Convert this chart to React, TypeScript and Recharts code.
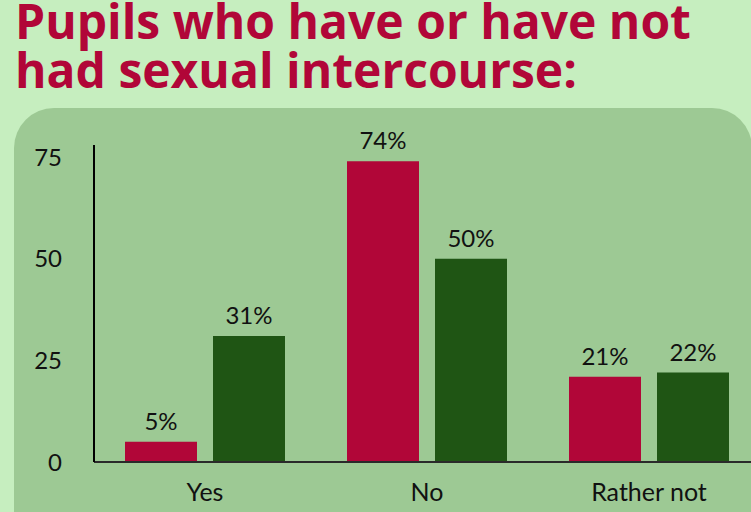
import React from "react";
import { BarChart, Bar, XAxis, YAxis, LabelList } from "recharts";

const categories = ["Yes", "No", "Rather not"];
const seriesA = [5, 74, 21];
const seriesB = [31, 50, 22];
const yTicks = [0, 25, 50, 75];
const titleLines = ["Pupils who have or have not", "had sexual intercourse:"];

const data = categories.map((c, i) => ({ name: c, a: seriesA[i], b: seriesB[i] }));

const RED = "#b10638";
const DARK = "#1f5514";

const titleStyle: React.CSSProperties = {
  position: "absolute",
  left: 15,
  fontFamily: "'Open Sans', sans-serif",
  fontWeight: 700,
  fontSize: 48,
  lineHeight: "41px",
  height: 41,
  color: RED,
  whiteSpace: "nowrap",
};

export default function App() {
  return (
    <div
      style={{
        position: "fixed",
        left: 0,
        top: 0,
        width: 751,
        height: 512,
        overflow: "hidden",
        background: "#c6eebf",
      }}
    >
      <div style={{ ...titleStyle, top: 0 }}>{titleLines[0]}</div>
      <div style={{ ...titleStyle, top: 49 }}>{titleLines[1]}</div>
      <div
        style={{
          position: "absolute",
          left: 14,
          top: 108,
          width: 738,
          height: 460,
          borderRadius: 40,
          background: "#9dc994",
        }}
      />
      <div style={{ position: "absolute", left: 0, top: 0 }}>
        <BarChart
          width={766}
          height={512}
          data={data}
          margin={{ top: 145, right: 6, bottom: 20, left: 0 }}
          barGap={16}
          barSize={72}
        >
          <XAxis
            dataKey="name"
            tickLine={false}
            axisLine={{ stroke: "#2a2a2a", strokeWidth: 2 }}
            tick={{ fill: "#111", fontSize: 25, fontFamily: "Lato" }}
            tickMargin={15}
          />
          <YAxis
            width={94}
            domain={[0, 78]}
            ticks={yTicks}
            tickLine={false}
            axisLine={{ stroke: "#000", strokeWidth: 2 }}
            tick={{ fill: "#111", fontSize: 24, fontFamily: "Lato" }}
            tickMargin={26}
          />
          <Bar dataKey="a" fill={RED} isAnimationActive={false}>
            <LabelList
              dataKey="a"
              position="top"
              offset={12}
              formatter={(v: any) => `${v}%`}
              style={{ fill: "#111", fontSize: 24, fontFamily: "Lato" }}
            />
          </Bar>
          <Bar dataKey="b" fill={DARK} isAnimationActive={false}>
            <LabelList
              dataKey="b"
              position="top"
              offset={12}
              formatter={(v: any) => `${v}%`}
              style={{ fill: "#111", fontSize: 24, fontFamily: "Lato" }}
            />
          </Bar>
        </BarChart>
      </div>
    </div>
  );
}
